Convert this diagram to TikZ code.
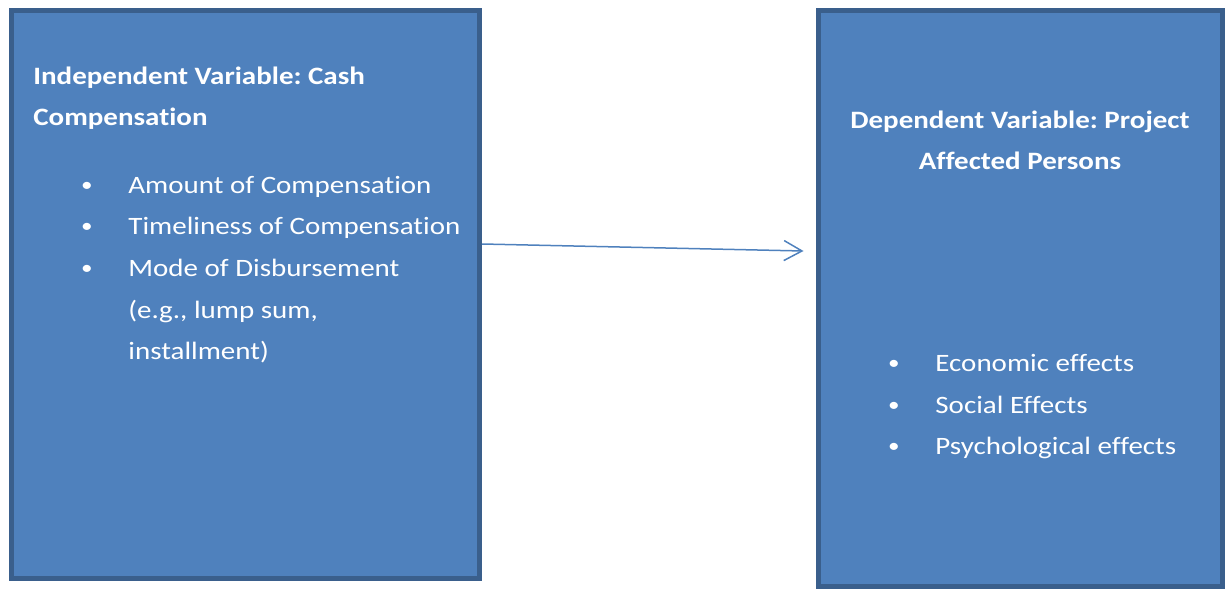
\documentclass[tikz,border=0pt]{standalone}
\usepackage{fontspec}
\setmainfont{Carlito}[Ligatures=NoCommon, FakeStretch=1.16]
\usetikzlibrary{arrows.meta}
\frenchspacing

\definecolor{boxfill}{HTML}{4F81BD}
\definecolor{boxline}{HTML}{3A5F8C}

\tikzset{
  varbox/.style={draw=boxline, fill=boxfill, line width=2.5pt, inner sep=0pt},
  headtext/.style={text=white, font=\fontsize{12.5pt}{20.5pt}\selectfont\bfseries, inner sep=0pt},
  itemtext/.style={text=white, font=\fontsize{12.5pt}{21pt}\selectfont, inner sep=0pt, anchor=base west},
  dot/.style={text=white, font=\fontsize{10pt}{21pt}\selectfont, inner sep=0pt, anchor=base}
}

\begin{document}
\begin{tikzpicture}[x=0.5pt,y=-0.5pt]
\useasboundingbox (0,0) rectangle (1225,589);
\node[varbox, minimum width=234pt, minimum height=284pt] (indep) at (245.5,294.5) {};
\node[varbox, minimum width=202pt, minimum height=288pt] (dep) at (1020.5,298.5) {};

\node[headtext, anchor=base west] (indepA) at (33,84) {Independent Variable: Cash};
\node[headtext, anchor=base west] (indepB) at (33,125) {Compensation};
\node[dot] (b1) at (87,191) {•}; \node[itemtext] (i1) at (128,193) {Amount of Compensation};
\node[dot] (b2) at (87,232) {•}; \node[itemtext] (i2) at (128,234) {Timeliness of Compensation};
\node[dot] (b3) at (87,274) {•}; \node[itemtext] (i3) at (128,276) {Mode of Disbursement};
\node[itemtext] (i3b) at (128,318) {(e.g., lump sum,};
\node[itemtext] (i3c) at (128,359) {installment)};

\node[headtext, anchor=base] (depA) at (1020,128) {Dependent Variable: Project};
\node[headtext, anchor=base] (depB) at (1020,169) {Affected Persons};
\node[dot] (c1) at (894,369) {•}; \node[itemtext] (j1) at (935,371) {Economic effects};
\node[dot] (c2) at (894,411) {•}; \node[itemtext] (j2) at (935,413) {Social Effects};
\node[dot] (c3) at (894,452) {•}; \node[itemtext] (j3) at (935,454) {Psychological effects};

\draw[boxfill, line width=0.75pt, -{Straight Barb[length=9pt,width=10pt]}]
  ([yshift=25.25pt]indep.east) -- ([xshift=-6.25pt,yshift=23.75pt]dep.west);
\end{tikzpicture}
\end{document}
